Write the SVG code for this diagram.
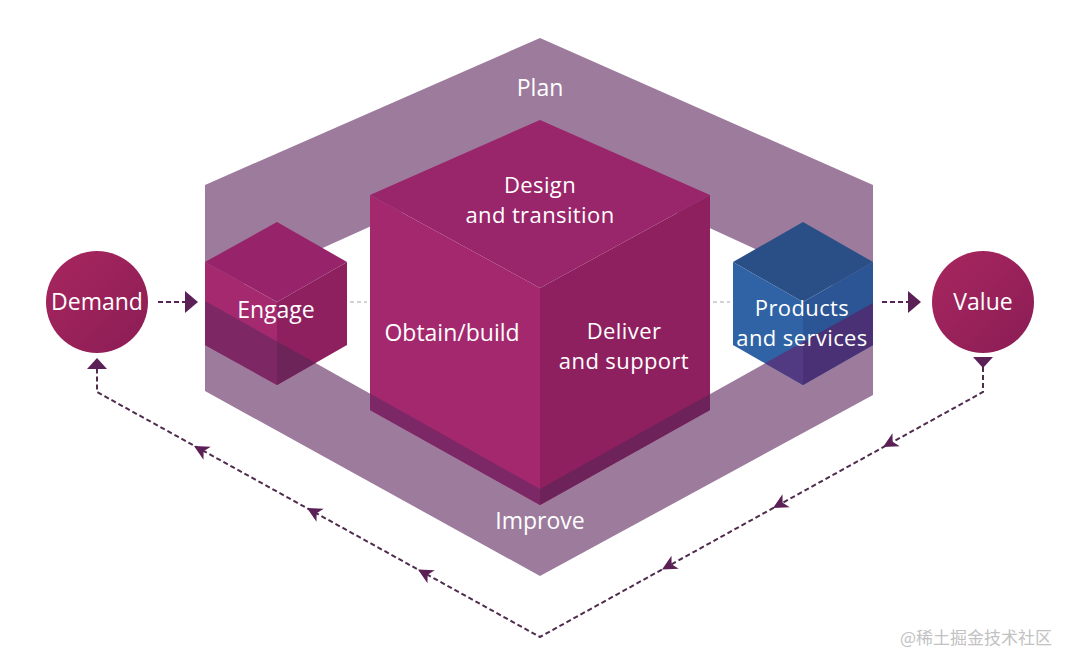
<svg xmlns="http://www.w3.org/2000/svg" xmlns:xlink="http://www.w3.org/1999/xlink" width="1080" height="667" viewBox="0 0 1080 667">
<defs>
<style>
.lbl{font-family:"Open Sans","Liberation Sans",sans-serif;font-size:23px;fill:#ffffff;text-anchor:middle}
.l2{font-size:22px;letter-spacing:0.4px}
.dash{fill:none;stroke:#4f2c4d;stroke-width:2;stroke-dasharray:5 3}
.hdash{fill:none;stroke:#5b2157;stroke-width:2.2;stroke-dasharray:5 3}
.gdash{fill:none;stroke:#c4c4c4;stroke-width:1.5;stroke-dasharray:4 3}
.ah{fill:#5b2157}
.wm{font-family:"Noto Sans CJK SC","Noto Sans",sans-serif;font-size:17px;fill:#c2c2c2}
</style>
<path id="mid" d="M0,0 L-15,-7.5 L-11,0 L-15,7.5 Z"/>
<linearGradient id="circ" x1="0" y1="0" x2="1" y2="1">
<stop offset="0" stop-color="#a8265f"/>
<stop offset="1" stop-color="#8b1d55"/>
</linearGradient>
</defs>
<rect width="1080" height="667" fill="#ffffff"/>

<g id="band">
<path fill="#9d7b9c" fill-rule="evenodd" d="M540,38 L873,185 L873,395 L540,576 L205,391 L205,185 Z M540,150 L873,303 L540,489 L205,301 Z"/>
<text class="lbl" x="540" y="96">Plan</text>
<text class="lbl" x="540" y="529">Improve</text>
</g>

<g id="connectors">
<line class="gdash" x1="350" y1="302" x2="367" y2="302"/>
<line class="gdash" x1="713" y1="302" x2="730" y2="302"/>
<line class="hdash" x1="158" y1="302" x2="187" y2="302"/>
<polygon class="ah" points="185,291 198,302 185,313"/>
<line class="hdash" x1="882" y1="302" x2="910" y2="302"/>
<polygon class="ah" points="908,291 921,302 908,313"/>
<path class="dash" d="M983,367 L983,392 L540,637 L97,392 L97,368"/>
<polygon class="ah" points="973,357 993,357 983,368"/>
<polygon class="ah" points="87,369 107,369 97,358"/>
<use xlink:href="#mid" class="ah" transform="translate(194,446) rotate(-151)"/>
<use xlink:href="#mid" class="ah" transform="translate(307,508) rotate(-151)"/>
<use xlink:href="#mid" class="ah" transform="translate(418,569.5) rotate(-151)"/>
<use xlink:href="#mid" class="ah" transform="translate(883,447) rotate(151)"/>
<use xlink:href="#mid" class="ah" transform="translate(773,508) rotate(151)"/>
<use xlink:href="#mid" class="ah" transform="translate(662,569.5) rotate(151)"/>
</g>

<g id="engage">
<polygon fill="#97246a" points="277,222 347,262 277,302 205,262"/>
<polygon fill="#a5296f" points="205,262 277,302 277,385 205,345"/>
<polygon fill="#8e205f" points="277,302 347,262 347,345 277,385"/>
<polygon fill="#7d2865" points="205,301 277,341.4 277,385 205,345"/>
<polygon fill="#6d2459" points="277,341.4 315.5,363 277,385"/>
<text class="lbl" x="276" y="318">Engage</text>
</g>

<g id="big-cube">
<polygon fill="#99256a" points="540,120 710,195 540,288 370,195"/>
<polygon fill="#a4286e" points="370,195 540,288 540,505 370,410"/>
<polygon fill="#8f2060" points="540,288 710,195 710,410 540,505"/>
<polygon fill="#7c2766" points="370,393.6 540,489 540,505 370,410"/>
<polygon fill="#6d2259" points="540,489 710,394 710,410 540,505"/>
<text class="lbl l2" x="540" y="193">Design</text>
<text class="lbl l2" x="540" y="223">and transition</text>
<text class="lbl" x="452" y="341">Obtain/build</text>
<text class="lbl l2" x="624" y="339">Deliver</text>
<text class="lbl l2" x="624" y="369">and support</text>
</g>

<g id="products">
<polygon fill="#2a4e86" points="803,222 873,262 803,302 733,262"/>
<polygon fill="#2f63a5" points="733,262 803,302 803,385 733,345"/>
<polygon fill="#2b5595" points="803,302 873,262 873,345 803,385"/>
<polygon fill="#4a3074" points="803,342 873,303 873,345 803,385"/>
<polygon fill="#513a82" points="803,342 803,385 765,363.2"/>
<text class="lbl l2" x="802" y="316">Products</text>
<text class="lbl l2" x="802" y="346">and services</text>
</g>

<g id="demand">
<circle cx="97" cy="302" r="51" fill="url(#circ)"/>
<text class="lbl" x="97" y="310">Demand</text>
</g>

<g id="value">
<circle cx="983" cy="302" r="51" fill="url(#circ)"/>
<text class="lbl" x="983" y="310">Value</text>
</g>

<text class="wm" x="900" y="644">@稀土掘金技术社区</text>
</svg>
